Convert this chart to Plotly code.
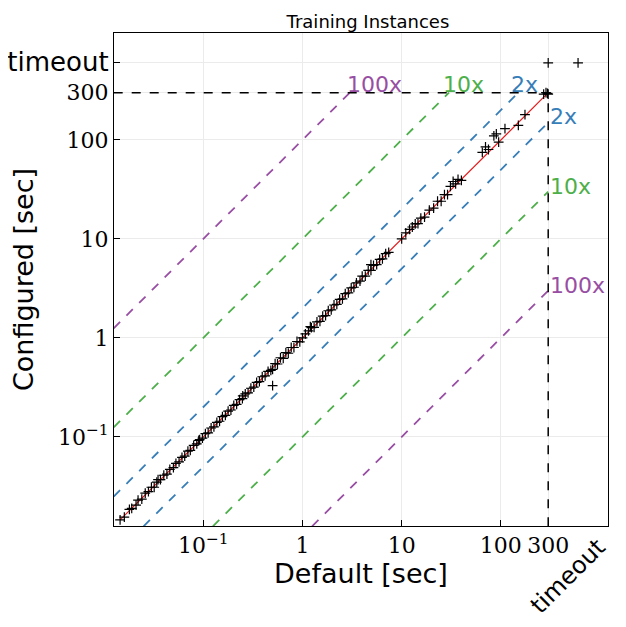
import math
import plotly.graph_objects as go

default_sec = [0.0145,0.016,0.018,0.019,0.021,0.022,0.024,0.026,0.028,0.030,0.032,0.034,0.037,0.040,0.043,0.046,0.050,0.053,0.057,0.061,0.065,0.070,0.074,0.080,0.086,0.092,0.098,0.105,0.112,0.120,0.128,0.137,0.146,0.156,0.167,0.178,0.190,0.203,0.217,0.232,0.248,0.265,0.283,0.302,0.323,0.345,0.368,0.393,0.420,0.450,0.48,0.50,0.53,0.56,0.60,0.64,0.68,0.72,0.77,0.82,0.88,0.94,1.00,1.07,1.15,1.23,1.31,1.40,1.50,1.60,1.71,1.82,1.95,2.08,2.22,2.37,2.53,2.70,2.9,3.1,3.3,3.5,3.8,4.0,4.3,4.6,4.9,5.2,5.6,6.0,6.4,6.9,7.4,10.0,11.0,12.0,12.8,13.7,14.6,15.6,17.0,19.0,21.0,23.0,25.0,27.0,29.0,31.0,33.0,35.0,37.0,40.0,65.0,70.0,75.0,85.0,90.0,95.0,110.0,150.0,175.0,270.0,285.0,295.0,300.0,300.0,600.0,0.50,4.9,1.2,0.25,0.09,0.035]
configured_sec = [0.0145,0.0155,0.0185,0.019,0.0205,0.023,0.0235,0.027,0.028,0.031,0.031,0.035,0.037,0.041,0.042,0.047,0.049,0.054,0.056,0.062,0.064,0.072,0.073,0.082,0.085,0.094,0.097,0.108,0.110,0.123,0.126,0.140,0.144,0.160,0.165,0.182,0.187,0.208,0.213,0.238,0.244,0.272,0.278,0.31,0.318,0.355,0.362,0.405,0.413,0.46,0.47,0.33,0.55,0.545,0.63,0.62,0.71,0.70,0.80,0.80,0.92,0.91,1.00,1.10,1.18,1.27,1.28,1.45,1.47,1.66,1.68,1.88,1.92,2.15,2.18,2.45,2.48,2.8,2.85,3.2,3.25,3.6,3.75,4.2,4.2,4.8,4.8,5.4,5.5,6.2,6.3,7.1,7.3,10.0,11.5,12.5,13.2,14.2,14.3,16.2,16.6,19.5,20.5,24.0,24.0,28.0,28.0,34.0,38.0,36.0,40.0,39.0,75.0,85.0,80.0,110.0,115.0,95.0,130.0,140.0,180.0,290.0,300.0,295.0,290.0,600.0,600.0,0.48,5.5,1.3,0.26,0.092,0.037]

ratios = [2, 10, 100]
ratio_colors = ["#377eb8", "#4daf4a", "#984ea3"]
ratio_labels = ["2x", "10x", "100x"]
lo, cap, timeout = 0.0125, 300, 600
L = math.log10

fig = go.Figure()
for r, c in zip(ratios, ratio_colors):
    fig.add_trace(go.Scatter(x=[lo, cap / r], y=[lo * r, cap], mode="lines",
                             line=dict(color=c, dash="dash", width=1.8), showlegend=False))
    fig.add_trace(go.Scatter(x=[lo * r, cap], y=[lo, cap / r], mode="lines",
                             line=dict(color=c, dash="dash", width=1.8), showlegend=False))
fig.add_trace(go.Scatter(x=[lo, cap], y=[cap, cap], mode="lines",
                         line=dict(color="black", dash="dash", width=1.5), showlegend=False))
fig.add_trace(go.Scatter(x=[cap, cap], y=[lo, cap], mode="lines",
                         line=dict(color="black", dash="dash", width=1.5), showlegend=False))
fig.add_trace(go.Scatter(x=[0.0145, cap], y=[0.0145, cap], mode="lines",
                         line=dict(color="#e41a1c", width=1.2), showlegend=False))
fig.add_trace(go.Scatter(x=default_sec, y=configured_sec, mode="markers",
                         marker=dict(symbol="cross-thin", size=7, line=dict(color="black", width=1.2)),
                         showlegend=False))

top_x = {2: 120, 10: 25, 100: 2.7}
for r, c, lab in zip(ratios, ratio_colors, ratio_labels):
    fig.add_annotation(x=L(top_x[r]), y=L(cap), text=lab, showarrow=False,
                       xanchor="left", yanchor="bottom", yshift=-6,
                       font=dict(family="DejaVu Sans", size=22, color=c))
    fig.add_annotation(x=L(cap), y=L(cap / r), text=lab, showarrow=False,
                       xanchor="left", yanchor="bottom", yshift=-9,
                       font=dict(family="DejaVu Sans", size=22, color=c))

fig.add_annotation(x=L(timeout), y=0, yref="paper", text="timeout", showarrow=False, textangle=-45,
                   xanchor="center", yanchor="top", xshift=-10, yshift=-4,
                   font=dict(family="DejaVu Sans", size=24, color="black"))

serif = dict(family="DejaVu Serif", size=22, color="black")
axcommon = dict(type="log", showline=True, linecolor="black", linewidth=1, mirror=True,
                ticks="inside", ticklen=6, tickcolor="black", showgrid=True, automargin=False,
                gridcolor="#ebebeb", gridwidth=1, zeroline=False, range=[-1.9, 3.08])
fig.update_xaxes(**axcommon, tickvals=[0.1, 1, 10, 100, 300],
                 ticktext=["10<sup>−1</sup>", "1", "10", "100", "300"], tickfont=serif,
                 title=dict(text="Default [sec]", font=dict(family="DejaVu Sans", size=27, color="black"), standoff=6))
fig.update_yaxes(**axcommon, tickvals=[0.1, 1, 10, 100, 300, 600],
                 ticktext=["10<sup>−1</sup>", "1", "10", "100", "300",
                           "<span style='font-family:DejaVu Sans;font-size:26px'>timeout</span>"], tickfont=serif,
                 title=dict(text="Configured [sec]", font=dict(family="DejaVu Sans", size=27, color="black"), standoff=8))
fig.update_layout(width=626, height=627, margin=dict(l=106, r=26, t=25, b=109),
                  plot_bgcolor="white", paper_bgcolor="white",
                  title=dict(text="Training Instances", x=0.575, xanchor="center", y=0.978, yanchor="middle",
                             font=dict(family="DejaVu Sans", size=18, color="black")))
fig.write_html("out.html")
